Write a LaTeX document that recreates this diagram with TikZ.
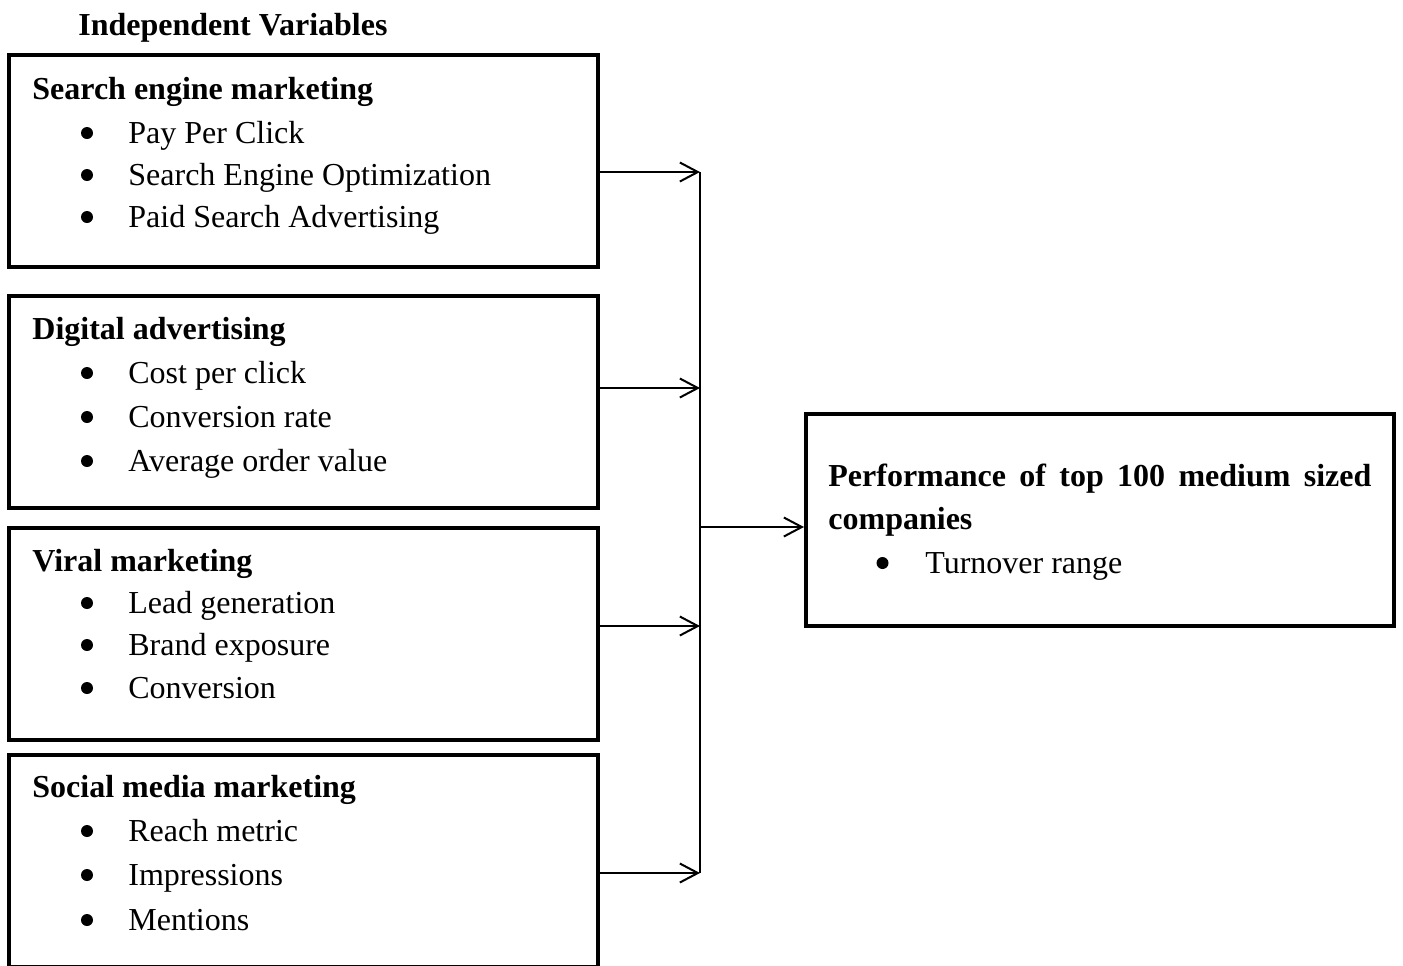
\documentclass[tikz,border=0pt]{standalone}
\usepackage{fontspec}
\setmainfont{Liberation Serif}
\usetikzlibrary{arrows.meta}

\tikzset{
  box/.style={draw, line width=2pt, minimum width=294.5pt, minimum height=106pt, inner sep=0pt},
  txt/.style={anchor=base west, inner sep=0pt, font=\fontsize{16pt}{21pt}\selectfont},
  head/.style={txt, font=\fontsize{16pt}{21pt}\selectfont\bfseries},
  dot/.style={circle, fill, inner sep=0pt, minimum size=6pt},
  arr/.style={line width=1pt, -{Straight Barb[length=9pt,width=9.5pt]}},
}

\begin{document}
\begin{tikzpicture}[x=0.5pt, y=-0.5pt]
    \useasboundingbox (0,0) rectangle (1403,965);

    \node (title) [head] at (78,35) {Independent Variables};

    % independent variables
    \node (sem) [box] at (303.5,161) {};
    \node (semH) [head] at (32,99) {Search engine marketing};
    \node (sem1) [txt] at (128,143) {Pay Per Click};
    \node (sem2) [txt] at (128,185) {Search Engine Optimization};
    \node (sem3) [txt] at (128,227) {Paid Search Advertising};
    \node (sem1d) [dot] at (87,133) {};
    \node (sem2d) [dot] at (87,175) {};
    \node (sem3d) [dot] at (87,217) {};

    \node (da) [box] at (303.5,401.5) {};
    \node (daH) [head] at (32,339) {Digital advertising};
    \node (da1) [txt] at (128,383) {Cost per click};
    \node (da2) [txt] at (128,427) {Conversion rate};
    \node (da3) [txt] at (128,471) {Average order value};
    \node (da1d) [dot] at (87,373) {};
    \node (da2d) [dot] at (87,417) {};
    \node (da3d) [dot] at (87,461) {};

    \node (vm) [box] at (303.5,633.5) {};
    \node (vmH) [head] at (32,571) {Viral marketing};
    \node (vm1) [txt] at (128,613) {Lead generation};
    \node (vm2) [txt] at (128,655) {Brand exposure};
    \node (vm3) [txt] at (128,698) {Conversion};
    \node (vm1d) [dot] at (87,603) {};
    \node (vm2d) [dot] at (87,645) {};
    \node (vm3d) [dot] at (87,688) {};

    \node (smm) [box] at (303.5,860.5) {};
    \node (smmH) [head] at (32,797) {Social media marketing};
    \node (smm1) [txt] at (128,841) {Reach metric};
    \node (smm2) [txt] at (128,885) {Impressions};
    \node (smm3) [txt] at (128,930) {Mentions};
    \node (smm1d) [dot] at (87,831) {};
    \node (smm2d) [dot] at (87,875) {};
    \node (smm3d) [dot] at (87,920) {};

    % dependent variable
    \node (perf) [box, minimum width=294pt] at (1100,520) {};
    \node (perfH) [head] at (828,486) {\makebox[271.5pt][s]{Performance of top 100 medium sized}};
    \node (perfH2) [head] at (828,529) {companies};
    \node (perf1) [txt] at (925,573) {Turnover range};
    \node (perf1d) [dot] at (882.5,563) {};

    \coordinate (j1) at (700,172);
    \coordinate (j2) at (700,388);
    \coordinate (jm) at (700,527);
    \coordinate (j3) at (700,626);
    \coordinate (j4) at (700,873);

    \draw[line width=1pt] (j1) -- (j4);
    \draw[arr] (sem.east |- j1) -- (j1);
    \draw[arr] (da.east |- j2) -- (j2);
    \draw[arr] (vm.east |- j3) -- (j3);
    \draw[arr] (smm.east |- j4) -- (j4);
    \draw[arr] (jm) -- (perf.west |- jm);
\end{tikzpicture}
\end{document}
